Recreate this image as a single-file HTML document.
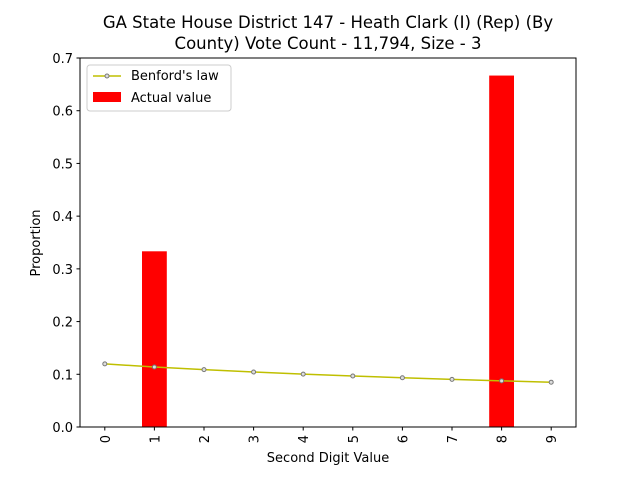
<!DOCTYPE html>
<html><head><meta charset="utf-8"><style>
body{margin:0;background:#fff;}
svg text{font-family:"DejaVu Sans","Liberation Sans",sans-serif;fill:#000;}
</style></head><body>
<svg id="chart" width="640" height="480" xmlns="http://www.w3.org/2000/svg">
<rect width="640" height="480" fill="#fff"/>
<text x="328" y="28" font-size="16.5" text-anchor="middle">GA State House District 147 - Heath Clark (I) (Rep) (By</text>
<text x="328" y="49" font-size="16.5" text-anchor="middle">County) Vote Count - 11,794, Size - 3</text>
<g id="plot"></g>
</svg>
<script>
const digits=[0,1,2,3,4,5,6,7,8,9];
const benford=[0.1197,0.1139,0.1088,0.1043,0.1003,0.0967,0.0934,0.0904,0.0876,0.0850];
const actual=[0,0.3333,0,0,0,0,0,0,0.6667,0];
const yTicks=[0,0.1,0.2,0.3,0.4,0.5,0.6,0.7];
const L=80,R=576,T=58,B=427;
const xs=v=>L+(v+0.5)*(R-L)/10;
const ys=v=>B-v*(B-T)/0.7;
const NS='http://www.w3.org/2000/svg';
const g=document.getElementById('plot');
function mk(t,a){const e=document.createElementNS(NS,t);for(const k in a)e.setAttribute(k,a[k]);g.appendChild(e);return e;}
digits.forEach((d,i)=>{if(actual[i]>0){const r=mk('rect',{x:xs(d)-12.4,y:ys(actual[i]),width:24.8,height:B-ys(actual[i]),fill:'#ff0000'});

}});
const pl=mk('polyline',{points:digits.map((d,i)=>xs(d)+','+ys(benford[i])).join(' '),fill:'none',stroke:'#bfbf00','stroke-width':1.5});


digits.forEach((d,i)=>{const c=mk('circle',{cx:xs(d),cy:ys(benford[i]),r:2,fill:'#ddd',stroke:'#777','stroke-width':1});

});
const fr=mk('rect',{x:L,y:T,width:R-L,height:B-T,fill:'none',stroke:'#000','stroke-width':1});


yTicks.forEach(v=>{mk('line',{x1:L-3.5,x2:L,y1:ys(v),y2:ys(v),stroke:'#000'});
const t=mk('text',{x:L-7,y:ys(v)+5,'font-size':13,'text-anchor':'end'});t.textContent=v.toFixed(1);

});
digits.forEach(d=>{mk('line',{x1:xs(d),x2:xs(d),y1:B,y2:B+3.5,stroke:'#000'});
const t=mk('text',{x:xs(d)+5,y:B+8,'font-size':13,'text-anchor':'end',transform:`rotate(-90 ${xs(d)+5} ${B+8})`});t.textContent=d;

});
let t=mk('text',{x:328,y:462,'font-size':13,'text-anchor':'middle'});t.textContent='Second Digit Value';


t=mk('text',{x:40,y:243,'font-size':13,'text-anchor':'middle',transform:'rotate(-90 40 243)'});t.textContent='Proportion';


const lg=mk('rect',{x:87,y:65,width:144,height:46,rx:3,fill:'#fff',stroke:'#ccc'});


mk('line',{x1:93,x2:121,y1:76,y2:76,stroke:'#bfbf00','stroke-width':1.5});
mk('circle',{cx:107,cy:76,r:2,fill:'#ddd',stroke:'#777'});
t=mk('text',{x:131,y:80,'font-size':13});t.textContent="Benford's law";


mk('rect',{x:93,y:92,width:28,height:10,fill:'#ff0000'});
t=mk('text',{x:131,y:102,'font-size':13});t.textContent='Actual value';


</script>
</body></html>
